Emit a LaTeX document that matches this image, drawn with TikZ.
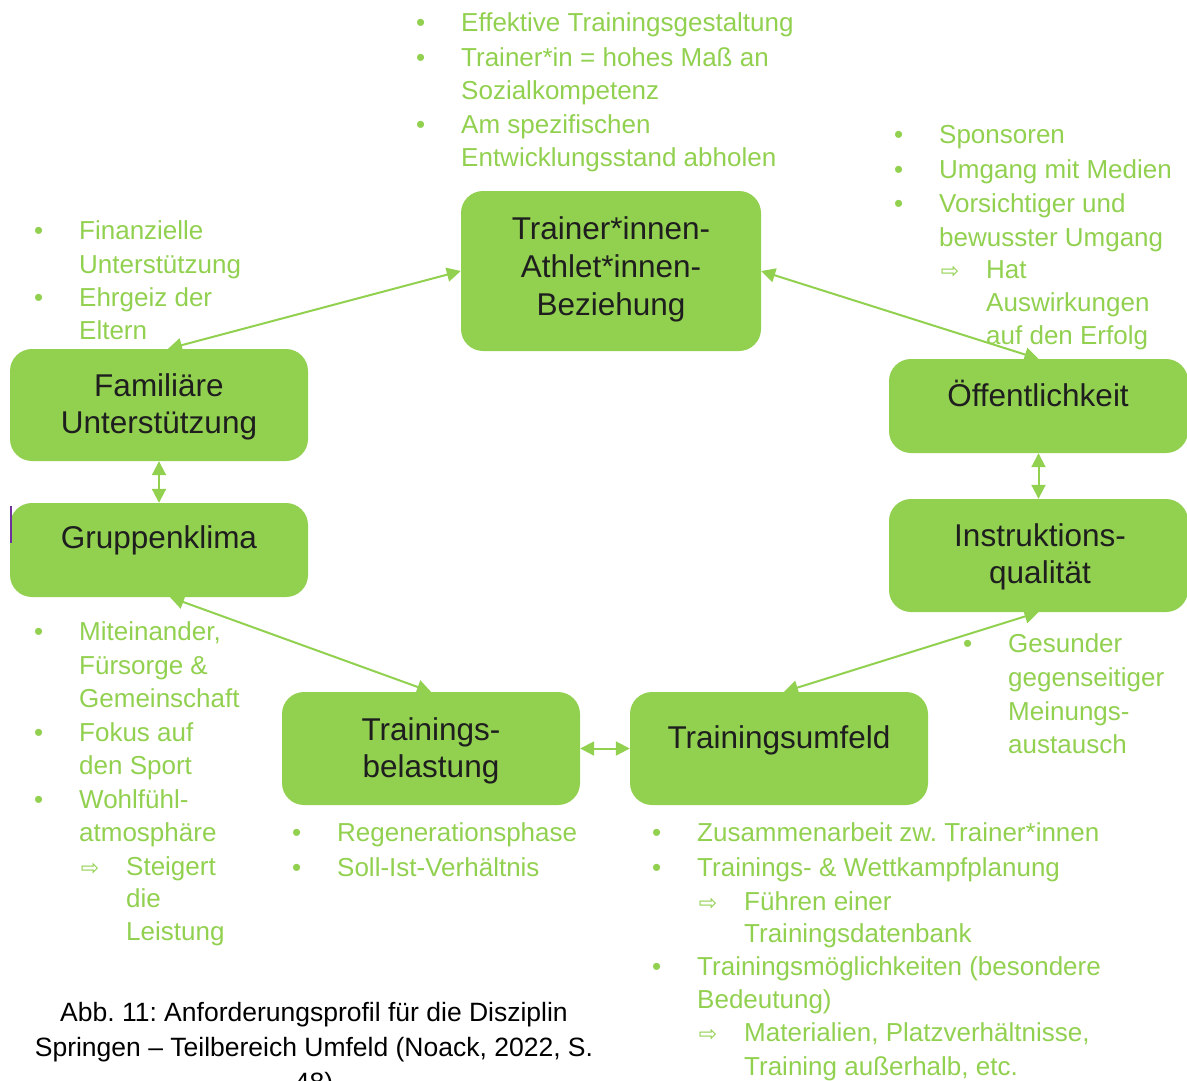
\documentclass[tikz,border=0pt]{standalone}
\usepackage{fontspec}
\setmainfont{Liberation Sans}
\newfontfamily\symfont{DejaVu Sans}
\usetikzlibrary{arrows.meta}
\definecolor{leaf}{HTML}{92D050}
\definecolor{ink}{HTML}{1E1E1E}
\definecolor{stray}{HTML}{7030A0}
\frenchspacing

\tikzset{
  stage/.style={fill=leaf, draw=none, rounded corners=22pt, inner sep=0pt},
  boxtxt/.style={anchor=base, inner sep=0pt, text=ink, font=\fontsize{31.5}{38}\selectfont},
  note/.style={anchor=base west, inner sep=0pt, text=leaf, font=\fontsize{26}{33}\selectfont},
  capt/.style={anchor=base, inner sep=0pt, text=black, font=\fontsize{26.5}{35}\selectfont},
  link/.style={draw=leaf, line width=2pt,
    {Triangle[length=14pt,width=14pt]}-{Triangle[length=14pt,width=14pt]}},
}
% bullet and arrow markers hanging left of a list line
\newcommand\bulpt{\llap{\textbullet\hspace{36pt}}}
\newcommand\subarr{\llap{{\symfont\fontsize{22}{22}\selectfont ⇨}\hspace{27pt}}}
\newcommand\note[4]{\node[note] (#1) at (#2,#3) {#4};}

\begin{document}
\begin{tikzpicture}[x=1pt,y=-1pt]
\clip (0,0) rectangle (1187,1080);

% ---- boxes
\node[stage, minimum width=300pt, minimum height=160pt] (trainer) at (611,271) {};
\node[stage, minimum width=298pt, minimum height=112pt] (famil) at (159,405) {};
\node[stage, minimum width=298pt, minimum height=94pt]  (grup) at (159,550) {};
\node[stage, minimum width=299pt, minimum height=94pt]  (oeff) at (1038.5,406) {};
\node[stage, minimum width=299pt, minimum height=113pt] (instr) at (1038.5,555.5) {};
\node[stage, minimum width=298pt, minimum height=113pt] (belast) at (431,748.5) {};
\node[stage, minimum width=298pt, minimum height=113pt] (umfeld) at (779,748.5) {};

\draw[stray, line width=2.5pt] (11,506) -- (11,543);

% ---- box labels
\node[boxtxt] (tr1) at (611,239) {Trainer*innen-};
\node[boxtxt] (tr2) at (611,277) {Athlet*innen-};
\node[boxtxt] (tr3) at (611,315) {Beziehung};
\node[boxtxt] (fa1) at (159,396) {Familiäre};
\node[boxtxt] (fa2) at (159,433) {Unterstützung};
\node[boxtxt] (gr1) at (159,548) {Gruppenklima};
\node[boxtxt] (oe1) at (1038,406) {Öffentlichkeit};
\node[boxtxt] (in1) at (1040,546) {Instruktions-};
\node[boxtxt] (in2) at (1040,583) {qualität};
\node[boxtxt] (be1) at (431,740) {Trainings-};
\node[boxtxt] (be2) at (431,777) {belastung};
\node[boxtxt] (um1) at (779,748) {Trainingsumfeld};

% ---- connectors
\draw[link] ([xshift=9pt]famil.north) -- (trainer.west);
\draw[link] (trainer.east) -- (oeff.north);
\draw[link] (famil.south) -- (grup.south |- grup.north);
\draw[link] ([xshift=11pt]grup.south) -- (belast.north);
\draw[link] (belast.east) -- (umfeld.west);
\draw[link] ([xshift=5pt]umfeld.north) -- (instr.south);
\draw[link] (oeff.south) -- (instr.north);

% ---- notes: Trainer*innen-Athlet*innen-Beziehung
\note{a1}{461}{31}{\bulpt Effektive Trainingsgestaltung}
\note{a2}{461}{66}{\bulpt Trainer*in = hohes Maß an}
\note{a3}{461}{99}{Sozialkompetenz}
\note{a4}{461}{133}{\bulpt Am spezifischen}
\note{a5}{461}{166}{Entwicklungsstand abholen}

% ---- notes: Öffentlichkeit
\note{b1}{939}{143}{\bulpt Sponsoren}
\note{b2}{939}{178}{\bulpt Umgang mit Medien}
\note{b3}{939}{212}{\bulpt Vorsichtiger und}
\note{b4}{939}{246}{bewusster Umgang}
\note{b5}{986}{278}{\subarr Hat}
\note{b6}{986}{311}{Auswirkungen}
\note{b7}{986}{344}{auf den Erfolg}

% ---- notes: Familiäre Unterstützung
\note{c1}{79}{239}{\bulpt Finanzielle}
\note{c2}{79}{273}{Unterstützung}
\note{c3}{79}{306}{\bulpt Ehrgeiz der}
\note{c4}{79}{339}{Eltern}

% ---- notes: Gruppenklima
\note{d1}{79}{640}{\bulpt Miteinander,}
\note{d2}{79}{674}{Fürsorge \&}
\note{d3}{79}{707}{Gemeinschaft}
\note{d4}{79}{741}{\bulpt Fokus auf}
\note{d5}{79}{774}{den Sport}
\note{d6}{79}{808}{\bulpt Wohlfühl-}
\note{d7}{79}{841}{atmosphäre}
\note{d8}{126}{875}{\subarr Steigert}
\note{d9}{126}{907}{die}
\note{d10}{126}{940}{Leistung}

% ---- notes: Trainingsbelastung
\note{e1}{337}{841}{\bulpt Regenerationsphase}
\note{e2}{337}{876}{\bulpt Soll-Ist-Verhältnis}

% ---- notes: Instruktionsqualität
\note{f1}{1008}{652}{\bulpt Gesunder}
\note{f2}{1008}{686}{gegenseitiger}
\note{f3}{1008}{720}{Meinungs-}
\note{f4}{1008}{753}{austausch}

% ---- notes: Trainingsumfeld
\note{g1}{697}{841}{\bulpt Zusammenarbeit zw. Trainer*innen}
\note{g2}{697}{876}{\bulpt Trainings- \& Wettkampfplanung}
\note{g3}{744}{910}{\subarr Führen einer}
\note{g4}{744}{942}{Trainingsdatenbank}
\note{g5}{697}{975}{\bulpt Trainingsmöglichkeiten (besondere}
\note{g6}{697}{1008}{Bedeutung)}
\note{g7}{744}{1041}{\subarr Materialien, Platzverhältnisse,}
\note{g8}{744}{1075}{Training außerhalb, etc.}

% ---- caption (last line runs past the lower edge)
\node[capt] (cap1) at (314,1021) {Abb. 11: Anforderungsprofil für die Disziplin};
\node[capt] (cap2) at (314,1056) {Springen – Teilbereich Umfeld (Noack, 2022, S.};
\node[capt] (cap3) at (314,1091) {48)};
\end{tikzpicture}
\end{document}
